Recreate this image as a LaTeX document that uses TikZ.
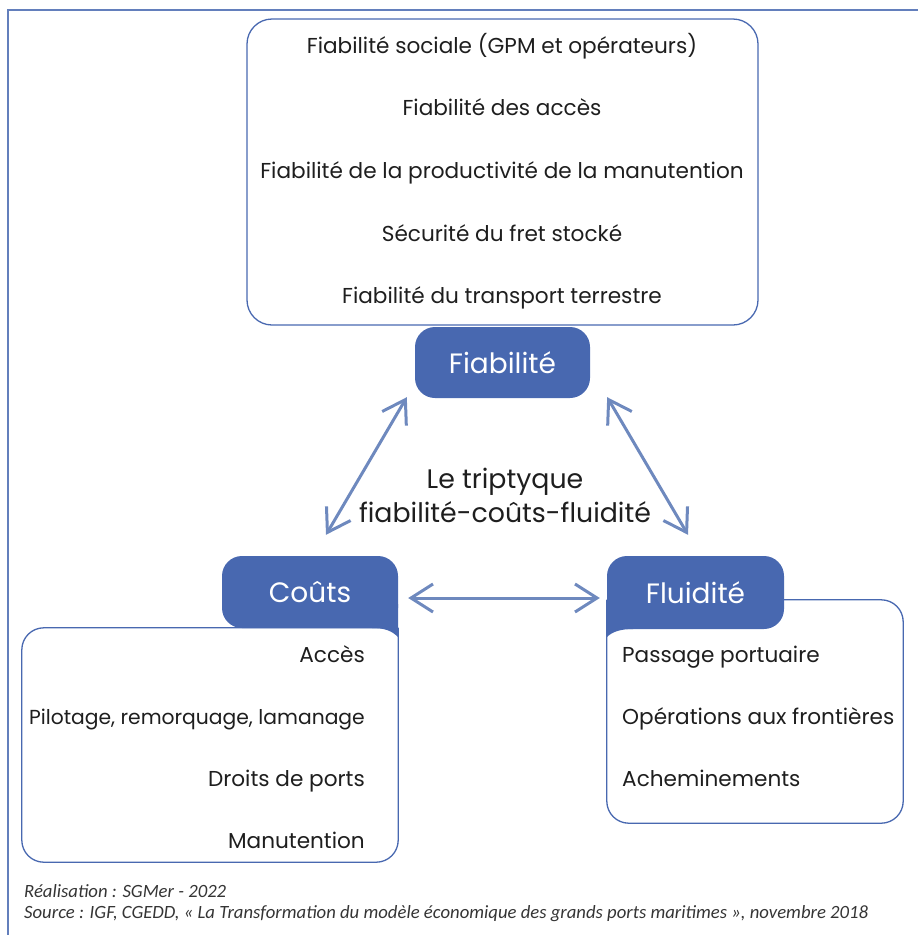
\documentclass[tikz,border=0pt]{standalone}
\usepackage{fontspec}
\setmainfont{Poppins}
\newfontfamily\notefont{Carlito}
\usetikzlibrary{arrows.meta,positioning}
\definecolor{sgblue}{RGB}{72,104,176}
\definecolor{linkblue}{RGB}{110,137,190}
\definecolor{inkgrey}{RGB}{30,30,30}
\tikzset{
  boxline/.style={draw=sgblue, line width=1.3pt},
  item/.style={text=inkgrey, font=\fontsize{21.6}{25}\selectfont, inner sep=0pt},
  tag/.style={fill=sgblue, rounded corners=20pt, text=white, inner sep=0pt,
    font=\fontsize{28}{32}\selectfont},
  link/.style={draw=linkblue, line width=3pt,
    {Straight Barb[length=22pt,width=28pt]}-{Straight Barb[length=22pt,width=28pt]}},
  note/.style={anchor=base west, inner sep=0pt, text=inkgrey!90,
    font=\notefont\itshape\fontsize{18.7}{21}\selectfont},
}
\begin{document}
\begin{tikzpicture}[x=1pt,y=-1pt]
\useasboundingbox (0,0) rectangle (918,935);
% frame
\draw[sgblue!85, line width=1.2pt] (8,935) -- (8,10) -- (918,10);

% list boxes
\node[boxline, rounded corners=25pt, minimum width=511pt, minimum height=306pt] (fiablist) at (502.5,172) {};
\node[minimum width=376pt, minimum height=234pt] (coutslist) at (210,745) {};
\node[minimum width=296pt, minimum height=223pt] (fluidlist) at (755,711.5) {};
\draw[boxline, rounded corners=22pt] (coutslist.north east) -- (coutslist.south east) -- (coutslist.south west) -- (coutslist.north west) -- (coutslist.north east);
\draw[boxline, rounded corners=22pt] (fluidlist.north west) -- (fluidlist.north east) -- (fluidlist.south east) -- (fluidlist.south west) -- (fluidlist.north west);

% items
\node[item, anchor=base] (f1) at (502,53) {Fiabilité sociale (GPM et opérateurs)};
\node[item, anchor=base] (f2) at (502,115) {Fiabilité des accès};
\node[item, anchor=base] (f3) at (502,178) {Fiabilité de la productivité de la manutention};
\node[item, anchor=base] (f4) at (502,241) {Sécurité du fret stocké};
\node[item, anchor=base] (f5) at (502,303) {Fiabilité du transport terrestre};

\node[item, anchor=base east] (c1) at (365,662) {Accès};
\node[item, anchor=base east, font=\fontsize{20.3}{25}\selectfont] (c2) at (365,724) {Pilotage, remorquage, lamanage};
\node[item, anchor=base east] (c3) at (365,786) {Droits de ports};
\node[item, anchor=base east] (c4) at (365,848) {Manutention};

\node[item, anchor=base west] (d1) at (622,662) {Passage portuaire};
\node[item, anchor=base west] (d2) at (622,724) {Opérations aux frontières};
\node[item, anchor=base west] (d3) at (622,786) {Acheminements};

% tags
\node[tag, minimum width=175pt, minimum height=71pt] (fiab) at (502.5,362.5) {Fiabilité};
\node[tag, minimum width=176pt, minimum height=72pt] (couts) at (310,592) {Coûts};
\node[tag, minimum width=177pt, minimum height=73pt] (fluid) at (695.5,592.5) {Fluidité};
\fill[sgblue] (372,604) -- (398,604) -- (398,637) .. controls (392,631) and (385,628) .. (372,628) -- cycle;
\fill[sgblue] (607,604) -- (633,604) -- (633,629) .. controls (620,629) and (612,632) .. (607,637) -- cycle;

% centre
\node[text=inkgrey, align=center, font=\fontsize{26.8}{34}\selectfont] (triptyque) at (505,495) {Le triptyque\\fiabilité-coûts-fluidité};

% arrows
\path (fiab.south west) ++(-8,-1) coordinate (fiabL);
\path (fiab.south east) ++(17,-1) coordinate (fiabR);
\path (couts.north) ++(16,-21) coordinate (coutsT);
\path (fluid.north) ++(-7.5,-21) coordinate (fluidT);
\path (couts.east) ++(10,6) coordinate (coutsR);
\path (fluid.west) ++(-7,5.5) coordinate (fluidL);
\draw[link] (fiabL) -- (coutsT);
\draw[link] (fiabR) -- (fluidT);
\draw[link] (coutsR) -- (fluidL);

% source
\node[note] (made) at (24,897) {Réalisation : SGMer - 2022};
\node[note] (source) at (24,918) {Source : IGF, CGEDD, « La Transformation du modèle économique des grands ports maritimes », novembre 2018};
\end{tikzpicture}
\end{document}
